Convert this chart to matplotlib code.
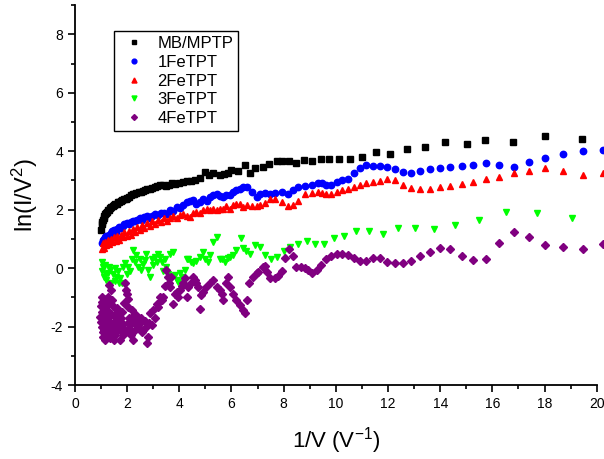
import numpy as np
import matplotlib
matplotlib.use('Agg')
import matplotlib.pyplot as plt

plt.rcParams['font.family'] = ['Liberation Sans', 'DejaVu Sans']
plt.rcParams['mathtext.default'] = 'regular'
plt.rcParams['axes.unicode_minus'] = False

# MB/MPTP
mb_x = [1.0, 1.02, 1.05, 1.08, 1.1, 1.13, 1.16, 1.2, 1.24, 1.28, 1.32, 1.36, 1.4, 1.45,
        1.5, 1.55, 1.6, 1.65, 1.7, 1.76, 1.82, 1.88, 1.94, 2.0, 2.07, 2.14, 2.21, 2.28,
        2.36, 2.44, 2.52, 2.6, 2.69, 2.78, 2.87, 2.96, 3.06, 3.16, 3.26, 3.37, 3.48, 3.6,
        3.72, 3.85, 4.0, 4.15, 4.3, 4.45, 4.6, 4.79, 4.98, 5.15, 5.3, 5.56, 5.72, 5.87,
        6.0, 6.26, 6.51, 6.7, 6.9, 7.2, 7.45, 7.73, 7.95, 8.21, 8.49, 8.79, 9.09, 9.45,
        9.74, 10.13, 10.55, 11.0, 11.54, 12.08, 12.73, 13.42, 14.19, 15.03, 15.72, 16.79,
        18.02, 19.44]
mb_y = [1.3, 1.5, 1.58, 1.65, 1.72, 1.8, 1.85, 1.9, 1.93, 1.98, 2.0, 2.05, 2.08, 2.12,
        2.15, 2.18, 2.2, 2.25, 2.28, 2.3, 2.32, 2.35, 2.38, 2.4, 2.45, 2.5, 2.52, 2.55,
        2.58, 2.6, 2.62, 2.65, 2.67, 2.7, 2.72, 2.75, 2.78, 2.8, 2.84, 2.85, 2.82, 2.86,
        2.9, 2.88, 2.92, 2.95, 2.97, 2.99, 3.03, 3.07, 3.29, 3.2, 3.24, 3.18, 3.22, 3.26,
        3.35, 3.32, 3.52, 3.26, 3.41, 3.46, 3.56, 3.66, 3.66, 3.66, 3.61, 3.69, 3.65, 3.75,
        3.75, 3.75, 3.75, 3.79, 3.99, 3.89, 4.09, 4.16, 4.30, 4.26, 4.37, 4.33,
        4.53, 4.43]

# 1FeTPT and 2FeTPT share the same 1/V values
fe_x = [1.02, 1.06, 1.1, 1.15, 1.2, 1.26, 1.32, 1.38, 1.44, 1.5, 1.56, 1.62, 1.69, 1.76,
        1.83, 1.9, 1.98, 2.06, 2.14, 2.22, 2.3, 2.39, 2.48, 2.57, 2.66, 2.76, 2.86, 2.96,
        3.07, 3.18, 3.29, 3.4, 3.52, 3.64, 3.76, 3.9, 4.02, 4.15, 4.28, 4.4, 4.53, 4.66,
        4.79, 4.92, 5.05, 5.18, 5.3, 5.43, 5.56, 5.68, 5.81, 5.94, 6.06, 6.19, 6.32, 6.45,
        6.58, 6.77, 6.96, 7.1, 7.28, 7.47, 7.66, 7.92, 8.17, 8.36, 8.56, 8.81, 9.07, 9.3,
        9.48, 9.64, 9.83, 10.05, 10.25, 10.45, 10.68, 10.92, 11.16, 11.42, 11.69, 11.97,
        12.26, 12.58, 12.9, 13.24, 13.6, 13.98, 14.38, 14.83, 15.27, 15.76, 16.27, 16.83,
        17.42, 18.03, 18.72, 19.46, 20.24]
fe1_y = [0.85, 0.95, 1.0, 1.05, 1.1, 1.07, 1.15, 1.2, 1.28, 1.3, 1.25, 1.35, 1.4, 1.38,
         1.45, 1.5, 1.53, 1.5, 1.58, 1.62, 1.6, 1.66, 1.7, 1.64, 1.75, 1.78, 1.72, 1.8,
         1.85, 1.82, 1.88, 1.9, 1.86, 1.98, 1.95, 2.1, 2.05, 2.15, 2.27, 2.3, 2.32, 2.2,
         2.27, 2.35, 2.3, 2.45, 2.5, 2.55, 2.48, 2.44, 2.5, 2.5, 2.6, 2.67, 2.72, 2.76,
         2.78, 2.61, 2.44, 2.55, 2.57, 2.53, 2.57, 2.59, 2.55, 2.67, 2.78, 2.8, 2.84, 2.9,
         2.92, 2.84, 2.84, 2.95, 3.03, 3.06, 3.24, 3.44, 3.52, 3.5, 3.48, 3.45,
         3.4, 3.3, 3.27, 3.34, 3.38, 3.42, 3.45, 3.48, 3.54, 3.61, 3.54, 3.46,
         3.62, 3.77, 3.9, 4.02, 4.03]
fe2_y = [0.65, 0.85, 0.7, 0.9, 0.78, 0.95, 0.82, 1.0, 0.88, 1.05, 0.92, 1.1, 0.98, 1.15,
         1.05, 1.22, 1.1, 1.28, 1.15, 1.35, 1.22, 1.42, 1.3, 1.48, 1.38, 1.55, 1.45, 1.6,
         1.5, 1.66, 1.58, 1.72, 1.62, 1.72, 1.78, 1.7, 1.81, 1.85, 1.78, 1.75, 1.87, 1.93,
         1.9, 2.0, 2.04, 1.98, 2.02, 1.98, 2.02, 2.04, 2.12, 2.04, 2.15, 2.21, 2.18, 2.1,
         2.15, 2.14, 2.12, 2.15, 2.23, 2.36, 2.38, 2.26, 2.12, 2.15, 2.3, 2.52, 2.58, 2.6,
         2.57, 2.52, 2.52, 2.61, 2.67, 2.71, 2.78, 2.85, 2.9, 2.94, 2.98, 3.04,
         3.01, 2.84, 2.75, 2.72, 2.72, 2.76, 2.8, 2.87, 2.95, 3.05, 3.13, 3.24,
         3.34, 3.44, 3.33, 3.18, 3.25]

# 3FeTPT (x, y)
fe3_pts = [(1.02, 0.22), (1.04, -0.1), (1.06, 0.05), (1.1, -0.3), (1.15, 0.1), (1.18, -0.2),
           (1.21, -0.41), (1.26, -0.15), (1.3, 0.05), (1.34, -0.07), (1.4, -0.52), (1.46, -0.2),
           (1.52, 0.0), (1.55, -0.45), (1.58, -0.3), (1.65, -0.1), (1.68, -0.5), (1.72, -0.35),
           (1.79, -0.52), (1.85, 0.04), (1.92, 0.16), (1.98, -0.2), (2.05, 0.05), (2.11, -0.1),
           (2.17, 0.33), (2.24, 0.62), (2.3, 0.2), (2.36, 0.45), (2.43, 0.04), (2.5, 0.3),
           (2.55, -0.07), (2.62, 0.15), (2.68, 0.27), (2.74, 0.5), (2.81, -0.07), (2.87, -0.3),
           (2.94, 0.33), (3.0, 0.1), (3.07, 0.39), (3.13, 0.2), (3.19, 0.5), (3.26, 0.39),
           (3.32, 0.22), (3.38, -0.1), (3.45, 0.33), (3.51, 0.04), (3.57, -0.2), (3.64, 0.5),
           (3.7, -0.3), (3.77, 0.56), (3.83, -0.24), (3.9, -0.4), (3.96, -0.47), (4.02, -0.18),
           (4.09, -0.3), (4.21, -0.05), (4.28, 0.33), (4.34, 0.3), (4.45, 0.2), (4.53, 0.16),
           (4.66, 0.25), (4.79, 0.39), (4.92, 0.56), (4.98, 0.3), (5.1, 0.2), (5.17, 0.44),
           (5.3, 0.9), (5.43, 1.07), (5.56, 0.33), (5.65, 0.3), (5.75, 0.22), (5.85, 0.35),
           (5.94, 0.39), (6.07, 0.44), (6.19, 0.62), (6.36, 1.04), (6.45, 0.7), (6.55, 0.58),
           (6.7, 0.5), (6.9, 0.79), (7.09, 0.73), (7.28, 0.44), (7.51, 0.33), (7.75, 0.39),
           (8.0, 0.59), (8.26, 0.71), (8.56, 0.84), (8.88, 0.93), (9.2, 0.84), (9.55, 0.84),
           (9.92, 1.04), (10.33, 1.09), (10.79, 1.28), (11.26, 1.28), (11.8, 1.16), (12.4, 1.36),
           (13.05, 1.36), (13.77, 1.33), (14.57, 1.47), (15.49, 1.64), (16.53, 1.93),
           (17.7, 1.89), (19.05, 1.7)]

# 4FeTPT (x, y)
fe4_pts = [(0.98, -1.66), (1.0, -1.85), (1.01, -1.3), (1.02, -0.98), (1.03, -2.0), (1.04, -1.15),
           (1.05, -1.5), (1.06, -2.35), (1.07, -2.2), (1.09, -1.32), (1.1, -1.75), (1.11, -1.05),
           (1.12, -2.12), (1.14, -1.6), (1.15, -2.45), (1.16, -1.9), (1.18, -1.2), (1.2, -2.3),
           (1.22, -1.7), (1.23, -2.05), (1.24, -1.45), (1.26, -2.05), (1.27, -1.25), (1.28, -0.98),
           (1.3, -1.8), (1.32, -0.58), (1.33, -1.6), (1.34, -2.4), (1.36, -1.55), (1.37, -2.1),
           (1.38, -0.75), (1.4, -2.2), (1.42, -1.9), (1.43, -1.1), (1.45, -1.3), (1.48, -2.0),
           (1.5, -1.65), (1.51, -2.45), (1.53, -2.3), (1.56, -1.4), (1.57, -1.8), (1.59, -1.85),
           (1.62, -2.1), (1.63, -1.35), (1.65, -1.55), (1.68, -1.95), (1.7, -1.75), (1.72, -2.46),
           (1.75, -1.7), (1.77, -2.0), (1.79, -2.2), (1.82, -1.5), (1.84, -2.3), (1.86, -1.9),
           (1.9, -1.2), (1.92, -0.52), (1.95, -0.75), (1.98, -0.87), (2.0, -2.12), (2.02, -1.05),
           (2.04, -1.32), (2.06, -1.85), (2.08, -1.7), (2.12, -1.95), (2.15, -2.3), (2.17, -1.44),
           (2.2, -2.2), (2.22, -1.65), (2.24, -2.46), (2.28, -1.75), (2.3, -2.12), (2.33, -1.9),
           (2.36, -1.6), (2.42, -2.0), (2.45, -1.75), (2.49, -1.89), (2.55, -1.7), (2.58, -2.2),
           (2.62, -2.12), (2.68, -1.8), (2.72, -2.0), (2.77, -2.57), (2.8, -2.35), (2.83, -1.89),
           (2.87, -1.55), (2.95, -1.95), (3.0, -1.44), (3.07, -1.7), (3.13, -1.21), (3.2, -1.32),
           (3.26, -0.98), (3.32, -1.1), (3.38, -0.98), (3.45, -0.6), (3.51, -0.07), (3.56, -0.3),
           (3.6, -0.52), (3.64, -0.64), (3.7, -0.3), (3.77, -1.21), (3.83, -0.9), (3.9, -0.81),
           (3.96, -1.0), (4.02, -0.75), (4.09, -0.6), (4.15, -0.52), (4.21, -0.35), (4.28, -0.98),
           (4.34, -0.64), (4.45, -0.5), (4.53, -0.3), (4.6, -0.41), (4.66, -0.52), (4.72, -0.64),
           (4.79, -1.38), (4.85, -0.92), (4.92, -0.8), (5.04, -0.64), (5.17, -0.5), (5.3, -0.41),
           (5.43, -0.64), (5.56, -0.75), (5.62, -0.87), (5.68, -1.09), (5.81, -0.52), (5.87, -0.3),
           (5.94, -0.64), (6.07, -0.87), (6.19, -1.09), (6.32, -1.26), (6.45, -1.44), (6.51, -1.55),
           (6.58, -1.09), (6.68, -0.52), (6.83, -0.3), (6.96, -0.18), (7.02, -0.13), (7.21, 0.04),
           (7.28, 0.07), (7.38, -0.13), (7.47, -0.33), (7.66, -0.35), (7.79, -0.26), (7.95, -0.11),
           (8.07, 0.35), (8.21, 0.67), (8.36, 0.41), (8.49, 0.04), (8.66, 0.04), (8.81, 0.02),
           (8.94, -0.07), (9.1, -0.18), (9.26, -0.05), (9.45, 0.1), (9.64, 0.3), (9.83, 0.41),
           (10.05, 0.48), (10.25, 0.48), (10.45, 0.44), (10.68, 0.35), (10.92, 0.24), (11.16, 0.24),
           (11.42, 0.35), (11.69, 0.35), (11.97, 0.22), (12.26, 0.16), (12.58, 0.17), (12.9, 0.26),
           (13.24, 0.42), (13.6, 0.56), (13.98, 0.69), (14.38, 0.66), (14.83, 0.42), (15.27, 0.29),
           (15.76, 0.32), (16.27, 0.85), (16.83, 1.23), (17.42, 1.05), (18.03, 0.79), (18.72, 0.73),
           (19.46, 0.66), (20.24, 0.82)]

labels = ['MB/MPTP', '1FeTPT', '2FeTPT', '3FeTPT', '4FeTPT']

fe3_x, fe3_y = np.array(fe3_pts).T
fe4_x, fe4_y = np.array(fe4_pts).T

fig = plt.figure(figsize=(6.04, 4.59), dpi=100)
ax = fig.add_axes([0.124, 0.161, 0.864, 0.828])

kw = dict(linestyle='none', clip_on=False)
ax.plot(mb_x, mb_y, marker='s', ms=4.6, color='black', label=labels[0], **kw)
ax.plot(fe_x, fe1_y, marker='o', ms=4.6, color='#0000ff', label=labels[1], **kw)
ax.plot(fe_x, fe2_y, marker='^', ms=4.8, color='#ff0000', label=labels[2], **kw)
ax.plot(fe3_x, fe3_y, marker='v', ms=4.8, color='#00ff00', label=labels[3], **kw)
ax.plot(fe4_x, fe4_y, marker='D', ms=4.0, color='#800080', label=labels[4], **kw)

ax.set_xlim(0, 20)
ax.set_ylim(-4, 9)
ax.set_xticks(np.arange(0, 21, 2))
ax.set_xticks(np.arange(1, 20, 2), minor=True)
ax.set_yticks(np.arange(-4, 9, 2))
ax.set_yticks(np.arange(-3, 10, 2), minor=True)
ax.spines['top'].set_visible(False)
ax.spines['right'].set_visible(False)
for s in ['left', 'bottom']:
    ax.spines[s].set_linewidth(1.3)
ax.tick_params(which='major', direction='out', length=5, width=1.2, labelsize=10)
ax.tick_params(which='minor', direction='out', length=3, width=1.2)

ax.set_xlabel('1/V (V$^{-1}$)', fontsize=16, labelpad=10)
ax.set_ylabel('ln(I/V$^2$)', fontsize=17)
ax.yaxis.set_label_coords(-0.066, 0.5)

leg = ax.legend(loc='upper left', bbox_to_anchor=(0.189, 0.932), bbox_transform=fig.transFigure,
                borderaxespad=0, fancybox=False, framealpha=1, edgecolor='black',
                fontsize=12, labelspacing=0.22, handletextpad=0.5, markerscale=0.75,
                handlelength=1.8, borderpad=0.3)
leg.get_frame().set_linewidth(1.0)

plt.savefig('out.png', dpi=100)
